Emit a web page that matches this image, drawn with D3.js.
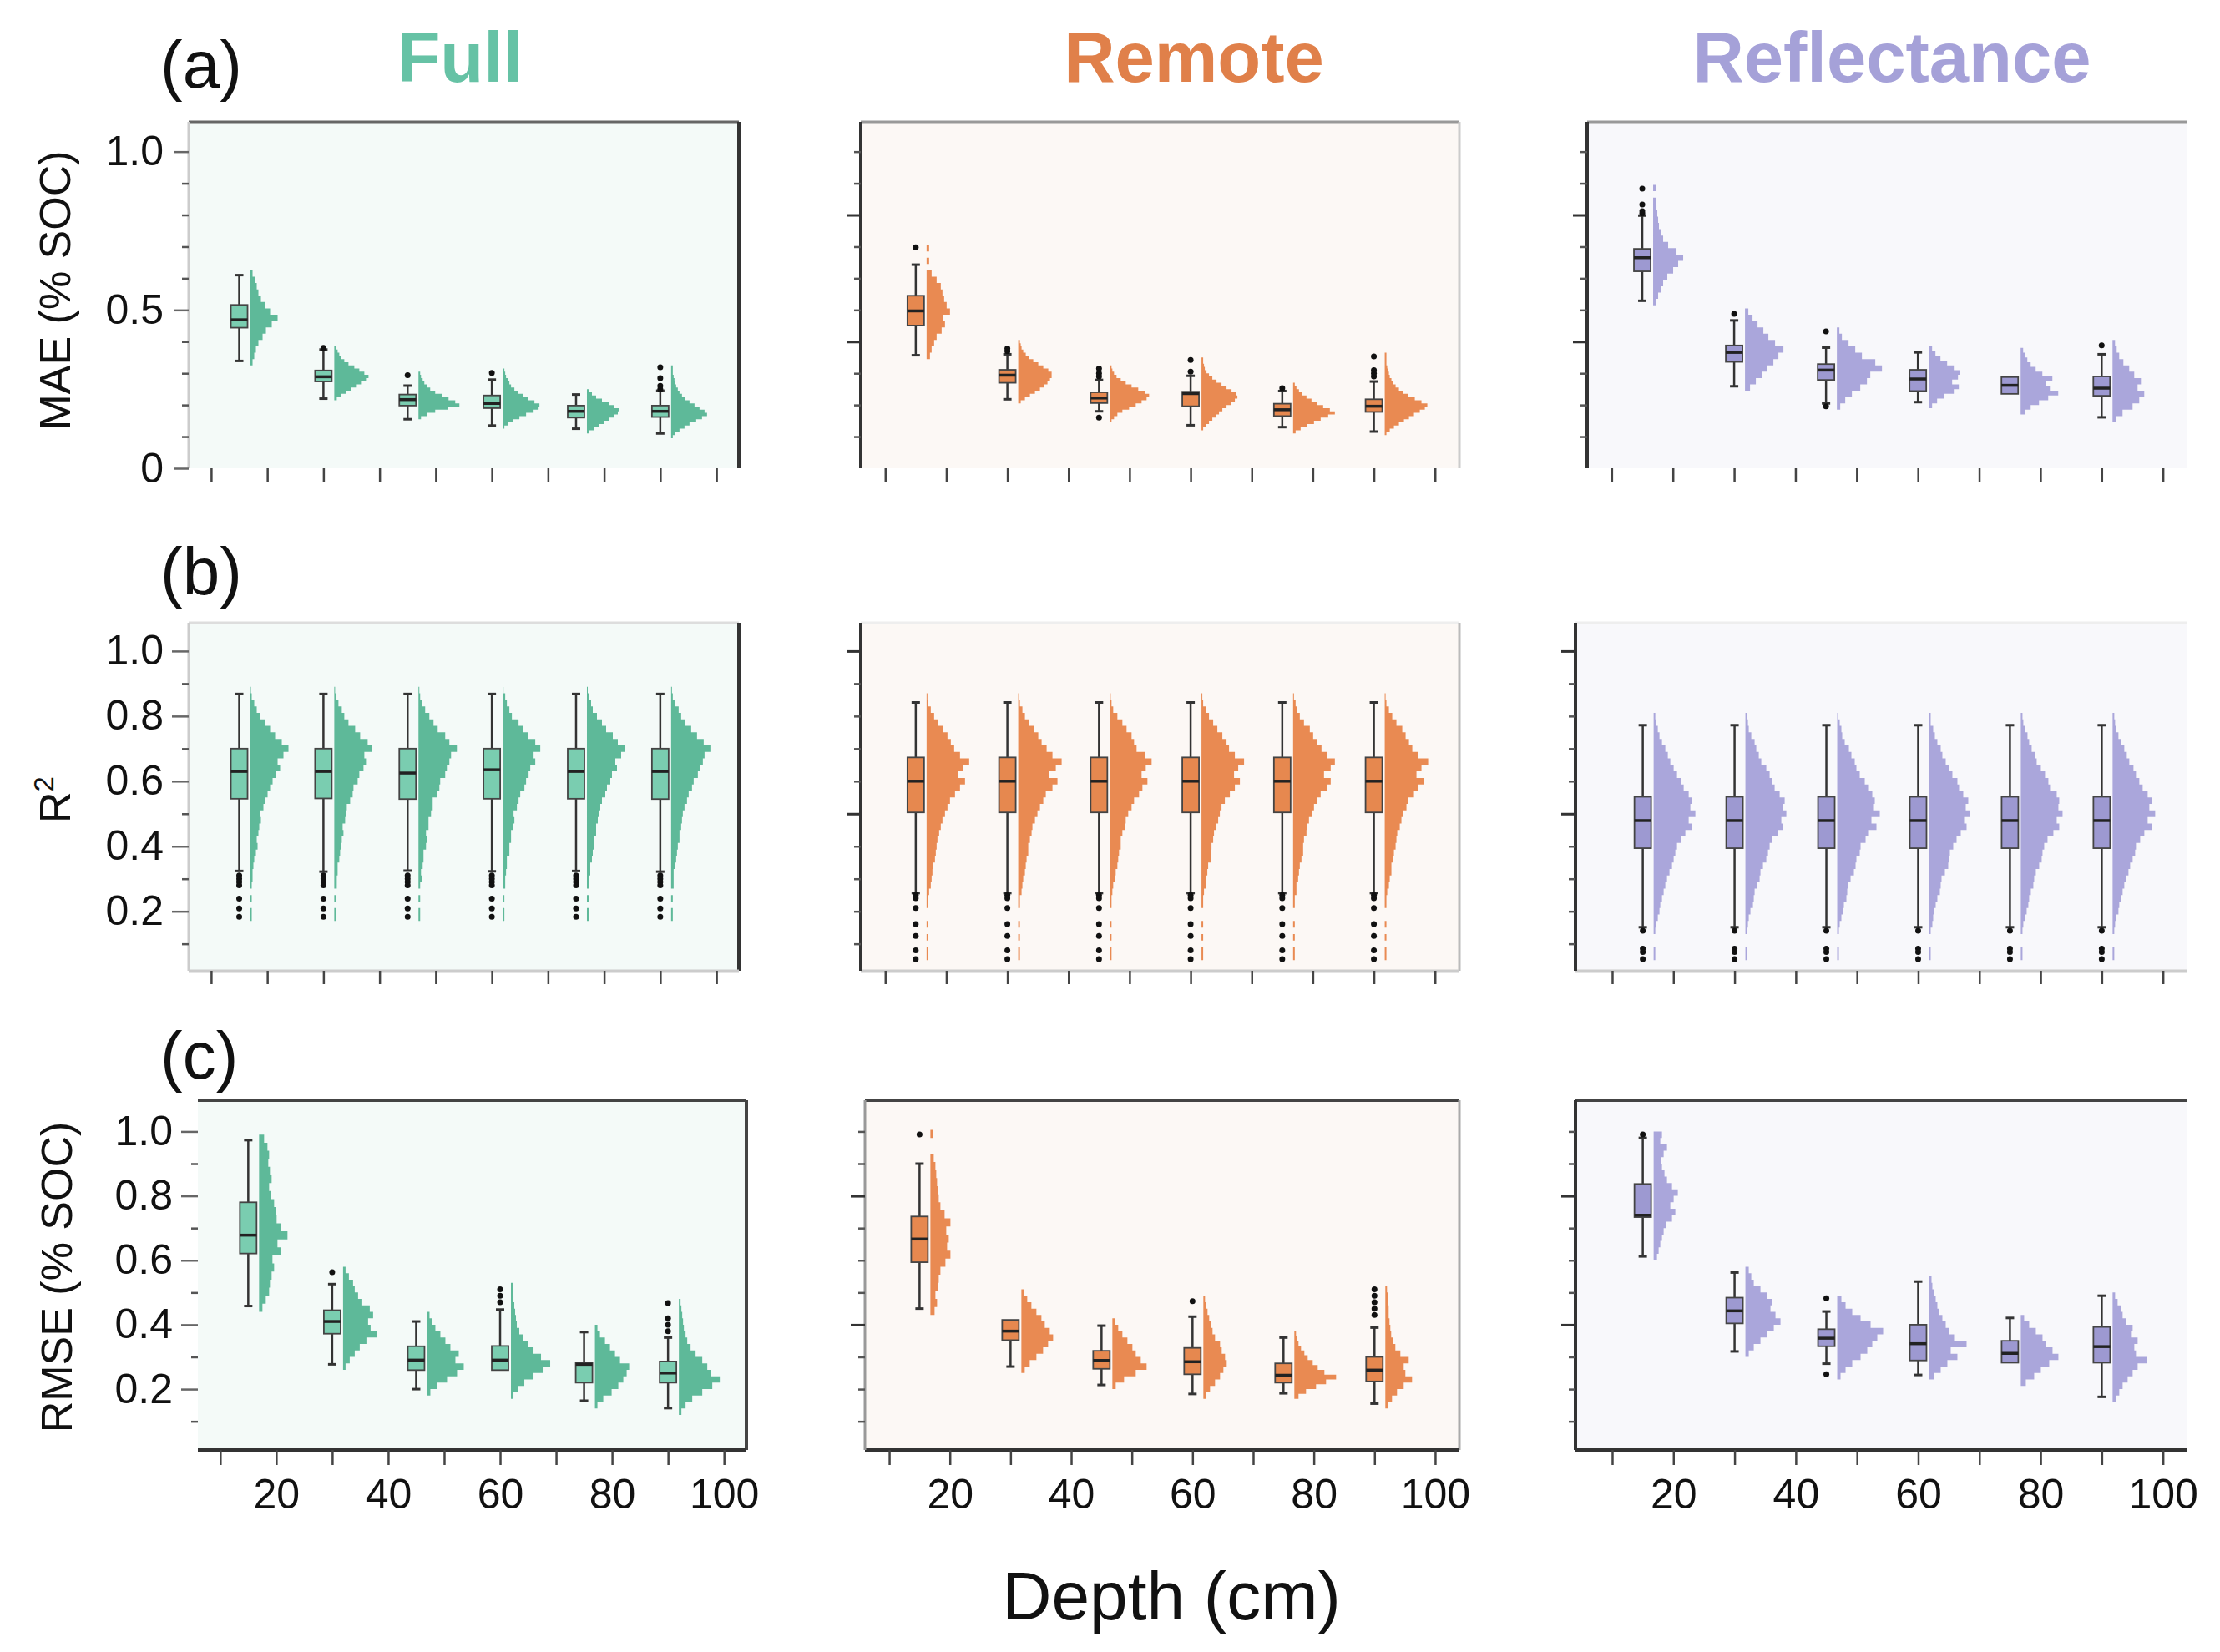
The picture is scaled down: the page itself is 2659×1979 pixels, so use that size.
<!DOCTYPE html>
<meta charset="utf-8">
<style>
body { margin: 0; background: #fff; }
text { font-family: "Liberation Sans", Arial, Helvetica, sans-serif; }
</style>
<svg width="2659" height="1979"></svg>
<script src="https://d3js.org/d3.v7.min.js"></script>
<script>
// categories and ticks
var models = ["Full", "Remote", "Reflectance"];
var depths = [15, 30, 45, 60, 75, 90];
var xTickValues = [10, 20, 30, 40, 50, 60, 70, 80, 90, 100];
var xTickLabels = [20, 40, 60, 80, 100];
var panelTags = ["(a)", "(b)", "(c)"];
var yLabelValues = [[0, 0.5, 1.0], [0.2, 0.4, 0.6, 0.8, 1.0], [0.2, 0.4, 0.6, 0.8, 1.0]];
var yLabelTexts = [["0", "0.5", "1.0"], ["0.2", "0.4", "0.6", "0.8", "1.0"], ["0.2", "0.4", "0.6", "0.8", "1.0"]];
var yTenths = [0.1, 0.2, 0.3, 0.4, 0.5, 0.6, 0.7, 0.8, 0.9, 1.0];
var yMajorOther = [[0.4, 0.8], [0.5, 1.0], [0.4, 0.8]];

// box stats per depth: [lower whisker, q1, median, q3, upper whisker]
var maeFullBox = [[0.339, 0.444, 0.469, 0.516, 0.61], [0.22, 0.274, 0.289, 0.309, 0.375], [0.155, 0.198, 0.217, 0.233, 0.261],
  [0.135, 0.19, 0.205, 0.23, 0.28], [0.125, 0.16, 0.18, 0.198, 0.233], [0.11, 0.162, 0.18, 0.198, 0.245]];
var maeRemoteBox = [[0.357, 0.451, 0.497, 0.545, 0.643], [0.218, 0.27, 0.294, 0.311, 0.36], [0.18, 0.206, 0.222, 0.24, 0.279],
  [0.136, 0.196, 0.236, 0.242, 0.292], [0.13, 0.165, 0.185, 0.204, 0.244], [0.116, 0.178, 0.196, 0.218, 0.274]];
var maeReflBox = [[0.529, 0.622, 0.665, 0.693, 0.798], [0.259, 0.336, 0.366, 0.388, 0.467], [0.205, 0.279, 0.31, 0.329, 0.381],
  [0.209, 0.244, 0.282, 0.311, 0.366], [0.235, 0.235, 0.262, 0.288, 0.288], [0.161, 0.229, 0.253, 0.29, 0.36]];
var r2FullBox = [[0.324, 0.546, 0.63, 0.70, 0.868], [0.322, 0.547, 0.63, 0.70, 0.868], [0.325, 0.545, 0.625, 0.70, 0.868],
  [0.323, 0.546, 0.635, 0.70, 0.868], [0.324, 0.546, 0.63, 0.70, 0.868], [0.322, 0.545, 0.63, 0.70, 0.868]];
var r2RemoteBox = [[0.256, 0.504, 0.60, 0.673, 0.842], [0.256, 0.504, 0.60, 0.673, 0.842], [0.256, 0.504, 0.60, 0.673, 0.842],
  [0.256, 0.504, 0.60, 0.673, 0.842], [0.256, 0.504, 0.60, 0.673, 0.842], [0.256, 0.504, 0.60, 0.673, 0.842]];
var r2ReflBox = [[0.151, 0.394, 0.479, 0.552, 0.772], [0.151, 0.394, 0.479, 0.552, 0.772], [0.151, 0.394, 0.479, 0.552, 0.772],
  [0.151, 0.394, 0.479, 0.552, 0.772], [0.151, 0.394, 0.479, 0.552, 0.772], [0.151, 0.394, 0.479, 0.552, 0.772]];
var rmseFullBox = [[0.458, 0.621, 0.678, 0.78, 0.973], [0.277, 0.372, 0.41, 0.445, 0.526], [0.2, 0.259, 0.29, 0.333, 0.41],
  [0.259, 0.259, 0.29, 0.334, 0.447], [0.164, 0.22, 0.277, 0.283, 0.377], [0.141, 0.22, 0.25, 0.286, 0.36]];
var rmseRemoteBox = [[0.45, 0.594, 0.666, 0.736, 0.9], [0.27, 0.352, 0.38, 0.415, 0.415], [0.213, 0.263, 0.289, 0.319, 0.397],
  [0.185, 0.246, 0.285, 0.328, 0.425], [0.187, 0.22, 0.243, 0.28, 0.36], [0.155, 0.224, 0.259, 0.3, 0.391]];
var rmseReflBox = [[0.612, 0.734, 0.74, 0.837, 0.98], [0.317, 0.404, 0.443, 0.484, 0.562], [0.279, 0.333, 0.358, 0.386, 0.441],
  [0.244, 0.289, 0.341, 0.4, 0.534], [0.282, 0.282, 0.311, 0.35, 0.421], [0.176, 0.282, 0.332, 0.393, 0.49]];

// outliers per depth
var maeFullOut = [[], [0.38], [0.294], [0.301], [], [0.25, 0.26, 0.285, 0.319]];
var maeRemoteOut = [[0.698], [0.37, 0.378], [0.16, 0.29, 0.3, 0.315], [0.305, 0.342], [0.253], [0.29, 0.3, 0.31, 0.353]];
var maeReflOut = [[0.805, 0.812, 0.833, 0.883], [0.488], [0.196, 0.432], [], [], [0.388]];
var r2FullOutliers = [0.31, 0.30, 0.29, 0.28, 0.239, 0.209, 0.183];
var r2RemoteOutliers = [0.25, 0.24, 0.21, 0.161, 0.124, 0.08, 0.053];
var r2ReflOutliers = [0.14, 0.085, 0.075, 0.053];
var rmseFullOut = [[], [0.563], [], [0.47, 0.49, 0.51], [], [0.38, 0.40, 0.42, 0.467]];
var rmseRemoteOut = [[0.991], [], [], [0.473], [], [0.43, 0.45, 0.47, 0.49, 0.51]];
var rmseReflOut = [[0.991], [], [0.246, 0.482], [], [], []];

// histograms per depth: [first bin start, bin width, counts]
var maeFullHist = [
  [0.325, 0.02, [3, 5, 7, 10, 15, 19, 26, 33, 24, 18, 13, 10, 8, 6, 3]],
  [0.215, 0.01, [3, 8, 14, 20, 26, 32, 38, 41, 36, 30, 24, 17, 12, 8, 6, 4, 2]],
  [0.155, 0.01, [3, 10, 20, 35, 49, 44, 36, 28, 20, 14, 10, 7, 5, 3, 2]],
  [0.125, 0.01, [2, 6, 12, 20, 28, 36, 42, 44, 38, 30, 24, 18, 14, 10, 8, 6, 4, 3, 2]],
  [0.11, 0.01, [3, 8, 14, 20, 27, 33, 37, 39, 33, 26, 18, 11, 6, 3]],
  [0.095, 0.01, [2, 5, 10, 16, 22, 30, 37, 43, 40, 34, 28, 22, 17, 13, 10, 8, 6, 5, 4, 3, 2, 2, 2]]];
var maeRemoteHist = [
  [0.345, 0.02, [4, 6, 9, 12, 18, 22, 20, 28, 24, 21, 19, 17, 12, 6, 0, 3, 0, 3]],
  [0.205, 0.01, [3, 8, 14, 20, 26, 31, 35, 38, 40, 40, 36, 30, 24, 18, 13, 9, 6, 4, 3, 2]],
  [0.145, 0.01, [2, 5, 9, 15, 23, 31, 38, 44, 47, 42, 34, 26, 19, 13, 8, 5, 3, 2]],
  [0.12, 0.01, [2, 5, 9, 13, 17, 21, 25, 30, 35, 40, 43, 41, 36, 30, 24, 18, 13, 9, 6, 4, 3, 2, 2]],
  [0.11, 0.01, [3, 9, 17, 25, 33, 42, 50, 44, 36, 29, 22, 16, 11, 7, 4, 2]],
  [0.105, 0.01, [2, 6, 11, 17, 23, 29, 35, 42, 48, 51, 44, 36, 28, 22, 17, 13, 10, 8, 6, 5, 4, 3, 2, 2, 2, 2]]];
var maeReflHist = [
  [0.515, 0.02, [3, 6, 9, 12, 17, 24, 30, 36, 28, 18, 12, 9, 7, 6, 5, 4, 3, 0, 3]],
  [0.245, 0.02, [6, 13, 20, 26, 34, 40, 46, 36, 28, 22, 15, 9, 4]],
  [0.185, 0.02, [4, 10, 18, 28, 36, 40, 54, 46, 30, 22, 14, 6, 3]],
  [0.19, 0.015, [4, 10, 18, 30, 36, 28, 35, 37, 30, 22, 14, 8, 4]],
  [0.17, 0.015, [5, 12, 22, 33, 45, 35, 30, 38, 26, 18, 12, 8, 5, 3]],
  [0.145, 0.02, [4, 12, 24, 32, 38, 30, 34, 26, 20, 13, 8, 5, 3]]];
var r2FullHist = [
  [0.17, 0.02, [2, 2, 0, 2, 0, 2, 3, 3, 4, 5, 7, 9, 8, 10, 11, 13, 12, 16, 18, 21, 24, 27, 31, 36, 33, 40, 46, 38, 30, 24, 18, 12, 8, 5, 2, 1]],
  [0.17, 0.02, [2, 2, 0, 2, 0, 3, 3, 4, 4, 6, 7, 8, 9, 11, 10, 13, 14, 15, 19, 22, 23, 28, 30, 35, 38, 36, 45, 40, 31, 25, 17, 12, 9, 5, 2, 1]],
  [0.17, 0.02, [2, 2, 0, 2, 0, 2, 4, 3, 5, 6, 6, 9, 10, 9, 12, 12, 15, 17, 17, 22, 25, 26, 32, 34, 37, 39, 46, 37, 32, 23, 18, 13, 8, 4, 2, 1]],
  [0.17, 0.02, [2, 2, 0, 2, 0, 3, 3, 4, 5, 5, 8, 8, 10, 10, 12, 14, 13, 17, 19, 21, 26, 28, 31, 33, 39, 36, 45, 39, 30, 24, 19, 11, 8, 5, 3, 1]],
  [0.17, 0.02, [2, 2, 0, 2, 0, 2, 3, 4, 4, 6, 7, 9, 9, 11, 11, 13, 14, 16, 18, 22, 24, 28, 30, 36, 34, 41, 46, 37, 31, 23, 18, 12, 7, 5, 2, 1]],
  [0.17, 0.02, [2, 2, 0, 2, 0, 3, 3, 3, 5, 6, 7, 8, 10, 10, 12, 13, 14, 16, 19, 21, 25, 27, 32, 35, 38, 40, 47, 39, 31, 24, 17, 12, 9, 5, 2, 1]]];
var r2RemoteHist = [
  [0.03, 0.02, [0, 2, 2, 0, 2, 0, 2, 0, 0, 2, 2, 3, 5, 6, 7, 8, 10, 11, 12, 13, 15, 17, 19, 22, 25, 28, 34, 40, 46, 38, 44, 51, 40, 33, 29, 25, 20, 14, 9, 5, 2, 1]],
  [0.03, 0.02, [0, 2, 2, 0, 2, 0, 2, 0, 0, 2, 2, 4, 5, 6, 8, 9, 10, 12, 12, 14, 16, 17, 20, 23, 26, 30, 33, 41, 47, 37, 45, 52, 41, 34, 28, 24, 19, 13, 8, 5, 2, 1]],
  [0.03, 0.02, [0, 2, 2, 0, 2, 0, 2, 0, 0, 2, 2, 3, 4, 6, 7, 9, 10, 11, 13, 13, 15, 18, 19, 22, 26, 29, 35, 39, 45, 38, 43, 50, 42, 32, 29, 26, 20, 15, 9, 4, 2, 1]],
  [0.03, 0.02, [0, 2, 2, 0, 2, 0, 2, 0, 0, 2, 2, 3, 5, 5, 7, 8, 11, 11, 12, 14, 15, 17, 20, 22, 24, 28, 34, 40, 46, 39, 44, 51, 40, 33, 30, 25, 19, 14, 9, 5, 2, 1]],
  [0.03, 0.02, [0, 2, 2, 0, 2, 0, 2, 0, 0, 2, 2, 4, 4, 6, 7, 8, 10, 12, 12, 13, 16, 17, 19, 23, 25, 29, 33, 41, 45, 37, 45, 50, 41, 34, 29, 24, 20, 13, 8, 5, 3, 1]],
  [0.03, 0.02, [0, 2, 2, 0, 2, 0, 2, 0, 0, 2, 2, 3, 5, 6, 8, 8, 10, 11, 13, 14, 15, 18, 20, 22, 26, 28, 35, 40, 47, 38, 44, 52, 40, 33, 29, 25, 21, 14, 9, 5, 2, 1]]];
var r2ReflHist = [
  [0.03, 0.02, [0, 2, 2, 0, 0, 2, 3, 5, 7, 8, 10, 12, 14, 16, 19, 22, 24, 26, 28, 33, 38, 46, 42, 50, 44, 46, 42, 36, 33, 28, 24, 20, 17, 14, 10, 7, 5, 3, 2]],
  [0.03, 0.02, [0, 2, 2, 0, 0, 2, 3, 4, 6, 9, 10, 11, 14, 17, 18, 21, 25, 27, 29, 32, 39, 45, 43, 49, 45, 47, 41, 35, 32, 29, 25, 19, 16, 13, 11, 7, 4, 3, 2]],
  [0.03, 0.02, [0, 2, 2, 0, 0, 2, 3, 5, 7, 8, 11, 12, 13, 16, 20, 22, 23, 27, 28, 34, 37, 47, 41, 51, 43, 45, 42, 37, 33, 27, 23, 21, 17, 14, 9, 6, 5, 3, 1]],
  [0.03, 0.02, [0, 2, 2, 0, 0, 2, 4, 5, 6, 8, 10, 13, 14, 15, 19, 23, 24, 25, 29, 33, 38, 45, 42, 49, 44, 47, 41, 36, 34, 28, 24, 20, 16, 14, 10, 7, 5, 2, 2]],
  [0.03, 0.02, [0, 2, 2, 0, 0, 2, 3, 5, 7, 9, 10, 12, 15, 16, 18, 22, 25, 26, 28, 32, 39, 46, 43, 50, 45, 46, 43, 35, 33, 29, 24, 19, 17, 13, 10, 8, 5, 3, 2]],
  [0.03, 0.02, [0, 2, 2, 0, 0, 2, 3, 4, 7, 8, 10, 12, 14, 16, 19, 21, 24, 27, 28, 33, 38, 47, 42, 51, 44, 47, 42, 36, 32, 28, 25, 20, 17, 14, 10, 7, 4, 3, 2]]];
var rmseFullHist = [
  [0.44, 0.025, [4, 8, 12, 13, 15, 18, 16, 26, 22, 34, 26, 21, 20, 18, 14, 12, 15, 13, 11, 12, 10, 6]],
  [0.26, 0.02, [3, 8, 14, 20, 28, 41, 33, 30, 36, 32, 22, 18, 14, 12, 7, 3]],
  [0.18, 0.02, [4, 12, 24, 36, 44, 34, 38, 28, 22, 16, 10, 6, 3]],
  [0.17, 0.02, [3, 8, 16, 26, 38, 47, 36, 26, 20, 14, 10, 7, 6, 5, 4, 3, 2, 2]],
  [0.14, 0.02, [3, 10, 20, 28, 34, 38, 41, 30, 24, 18, 12, 6, 3]],
  [0.12, 0.02, [3, 8, 16, 28, 40, 49, 38, 34, 28, 20, 14, 10, 8, 6, 5, 4, 3, 2]]];
var rmseRemoteHist = [
  [0.43, 0.025, [5, 8, 6, 9, 10, 12, 18, 24, 20, 22, 19, 24, 17, 12, 10, 9, 8, 7, 6, 4, 0, 0, 3]],
  [0.25, 0.02, [4, 10, 18, 26, 32, 38, 34, 28, 24, 18, 12, 7, 3]],
  [0.2, 0.02, [4, 14, 28, 41, 34, 28, 24, 18, 12, 7, 3]],
  [0.17, 0.02, [3, 8, 14, 20, 24, 28, 26, 22, 20, 14, 11, 9, 7, 5, 3, 2]],
  [0.17, 0.015, [5, 14, 26, 38, 50, 36, 28, 22, 16, 12, 8, 5, 3, 2]],
  [0.14, 0.02, [3, 8, 14, 22, 32, 24, 22, 28, 18, 12, 9, 7, 6, 5, 4, 4, 3, 3, 2]]];
var rmseReflHist = [
  [0.6, 0.02, [4, 6, 8, 10, 12, 15, 22, 26, 20, 24, 29, 22, 16, 13, 10, 9, 12, 16, 8, 10]],
  [0.3, 0.02, [4, 10, 18, 26, 34, 42, 36, 30, 32, 26, 18, 10, 7, 4]],
  [0.23, 0.02, [4, 10, 18, 28, 36, 42, 48, 55, 40, 28, 18, 10, 5]],
  [0.23, 0.02, [6, 14, 22, 34, 26, 45, 30, 24, 20, 16, 12, 10, 8, 6, 4, 3]],
  [0.21, 0.02, [6, 16, 24, 34, 45, 38, 30, 26, 18, 10, 4]],
  [0.16, 0.02, [4, 8, 12, 18, 24, 30, 41, 28, 26, 30, 22, 24, 16, 12, 10, 6, 3]]];

// tables the drawing code walks over: [row][col]
var boxTable = [[maeFullBox, maeRemoteBox, maeReflBox], [r2FullBox, r2RemoteBox, r2ReflBox], [rmseFullBox, rmseRemoteBox, rmseReflBox]];
var outTable = [[maeFullOut, maeRemoteOut, maeReflOut],
  [depths.map(function() { return r2FullOutliers; }), depths.map(function() { return r2RemoteOutliers; }), depths.map(function() { return r2ReflOutliers; })],
  [rmseFullOut, rmseRemoteOut, rmseReflOut]];
var histTable = [[maeFullHist, maeRemoteHist, maeReflHist], [r2FullHist, r2RemoteHist, r2ReflHist], [rmseFullHist, rmseRemoteHist, rmseReflHist]];

// layout and styles
var rowY = [[146, 561], [746, 1163], [1318, 1737]];
var colX = [
  [[226, 885], [226, 885], [237, 894]],
  [[1031, 1748], [1031, 1748], [1036, 1748]],
  [[1901, 2620], [1887, 2620], [1887, 2620]]];
var xDomain = [
  [[6, 104], [6, 104], [6, 104]],
  [[6, 104], [6, 104], [6, 104]],
  [[6, 104], [4, 104], [4, 104]]];
var yDomain = [[0, 1.094], [0.017, 1.087], [0.011, 1.097]];
var titleColor = ["#66c2a5", "#e0804a", "#a5a1d8"];
var histColor = ["#5eb999", "#e98a52", "#aaa6db"];
var boxColor = ["#7acdb0", "#e6884f", "#9d99d1"];
var bgColor = ["#f4faf8", "#fcf8f5", "#f8f8fb"];
// [top, right, bottom, left] border colours for each panel, [row][col]
var borders = [
  [["#666", "#333", null, "#ccc"], ["#999", "#ccc", null, "#333"], ["#999", null, null, "#333"]],
  [["#ddd", "#333", "#ccc", "#ccc"], ["#eee", "#bbb", "#ccc", "#333"], ["#eee", null, "#ccc", "#333"]],
  [["#444", "#444", "#333", null], ["#444", "#aaa", "#333", "#999"], ["#444", null, "#333", "#333"]]];

var svg = d3.select("svg");
svg.append("rect").attr("width", 2659).attr("height", 1979).attr("fill", "#fff");

function drawPanel(row, col) {
  var xr = colX[col][row], yr = rowY[row];
  var x = d3.scaleLinear().domain(xDomain[col][row]).range(xr);
  var y = d3.scaleLinear().domain(yDomain[row]).range([yr[1], yr[0]]);
  var w = d3.scaleLinear().domain([0, 50]).range([0, 50]);
  var g = svg.append("g");

  g.append("rect")
      .attr("x", xr[0]).attr("y", yr[0])
      .attr("width", xr[1] - xr[0]).attr("height", yr[1] - yr[0])
      .attr("fill", bgColor[col]);

  var box = boxTable[row][col], out = outTable[row][col], hist = histTable[row][col];

  depths.forEach(function(d, i) {
    var cx = x(d), b = box[i], h = hist[i];

    // half histogram to the right of the box
    var pts = [[0, h[0]]];
    h[2].forEach(function(c, k) {
      pts.push([c, h[0] + k * h[1]], [c, h[0] + (k + 1) * h[1]]);
    });
    pts.push([0, h[0] + h[2].length * h[1]]);
    g.append("path")
        .attr("d", d3.line()
          .x(function(p) { return cx + 13 + w(p[0]); })
          .y(function(p) { return y(p[1]); })(pts))
        .attr("fill", histColor[col]);

    // whiskers
    g.append("line").attr("x1", cx).attr("x2", cx).attr("y1", y(b[0])).attr("y2", y(b[1]))
        .attr("stroke", "#333").attr("stroke-width", 2.5);
    g.append("line").attr("x1", cx).attr("x2", cx).attr("y1", y(b[3])).attr("y2", y(b[4]))
        .attr("stroke", "#333").attr("stroke-width", 2.5);
    [b[0], b[4]].forEach(function(v) {
      if (v === b[1] || v === b[3]) return;
      g.append("line").attr("x1", cx - 5).attr("x2", cx + 5).attr("y1", y(v)).attr("y2", y(v))
          .attr("stroke", "#333").attr("stroke-width", 3);
    });

    // box and median
    g.append("rect")
        .attr("x", cx - 10).attr("width", 20)
        .attr("y", y(b[3])).attr("height", y(b[1]) - y(b[3]))
        .attr("fill", boxColor[col]).attr("stroke", "#444").attr("stroke-width", 1.8);
    g.append("line").attr("x1", cx - 10).attr("x2", cx + 10).attr("y1", y(b[2])).attr("y2", y(b[2]))
        .attr("stroke", "#222").attr("stroke-width", 3.5);

    // outliers
    g.selectAll(null)
      .data(out[i])
      .enter().append("circle")
        .attr("cx", cx).attr("cy", function(v) { return y(v); })
        .attr("r", 3.5).attr("fill", "#111");
  });

  // panel frame
  var edges = [[xr[0], yr[0], xr[1], yr[0]], [xr[1], yr[0], xr[1], yr[1]], [xr[0], yr[1], xr[1], yr[1]], [xr[0], yr[0], xr[0], yr[1]]];
  borders[row][col].forEach(function(c, k) {
    if (!c) return;
    var e = edges[k];
    g.append("line").attr("x1", e[0]).attr("y1", e[1]).attr("x2", e[2]).attr("y2", e[3])
        .attr("stroke", c).attr("stroke-width", (c === "#333" || c === "#444") ? 4 : 3);
  });

  // y axis
  var yAx = g.append("g").attr("transform", "translate(" + xr[0] + ",0)");
  if (col === 0) {
    yAx.call(d3.axisLeft(y).tickValues(yTenths.filter(function(v) { return yLabelValues[row].indexOf(v) < 0; }))
        .tickSize(8).tickFormat(""));
    var lab = g.append("g").attr("transform", "translate(" + xr[0] + ",0)")
        .call(d3.axisLeft(y).tickValues(yLabelValues[row]).tickSize(row === 0 ? 17 : 20).tickPadding(row === 0 ? 13 : 10)
          .tickFormat(function(d, i) { return yLabelTexts[row][i]; }));
    lab.select(".domain").remove();
    lab.selectAll("line").attr("stroke", "#666").attr("stroke-width", 2.5);
    lab.selectAll("text").attr("font-size", 50).attr("fill", "#111")
        .attr("font-family", "'Liberation Sans', Arial, sans-serif");
  } else {
    yAx.call(d3.axisLeft(y).tickValues(yTenths.filter(function(v) { return yMajorOther[row].indexOf(v) < 0; }))
        .tickSize(8).tickFormat(""));
    var maj = g.append("g").attr("transform", "translate(" + xr[0] + ",0)")
        .call(d3.axisLeft(y).tickValues(yMajorOther[row]).tickSize(17).tickFormat(""));
    maj.select(".domain").remove();
    maj.selectAll("line").attr("stroke", "#333").attr("stroke-width", 3);
  }
  yAx.select(".domain").remove();
  yAx.selectAll("line").attr("stroke", "#555").attr("stroke-width", 2.5);

  // x axis
  var xAx = g.append("g").attr("transform", "translate(0," + yr[1] + ")")
      .call(d3.axisBottom(x).tickValues(xTickValues).tickSize(row === 2 ? 18 : 16).tickPadding(16)
        .tickFormat(function(d) { return (row === 2 && xTickLabels.indexOf(d) >= 0) ? d : ""; }));
  xAx.select(".domain").remove();
  xAx.selectAll("line").attr("stroke", "#444").attr("stroke-width", 2.5);
  xAx.selectAll("text").attr("font-size", 50).attr("fill", "#111")
      .attr("font-family", "'Liberation Sans', Arial, sans-serif");
}

for (var r = 0; r < 3; r++) {
  for (var c = 0; c < 3; c++) drawPanel(r, c);
}

// column titles
var titleX = [551, 1430, 2266];
models.forEach(function(m, i) {
  svg.append("text")
      .attr("x", titleX[i]).attr("y", 98)
      .attr("text-anchor", "middle")
      .attr("font-size", 85).attr("font-weight", "bold")
      .attr("fill", titleColor[i])
      .text(m);
});

// row tags
var tagY = [105, 712, 1292];
panelTags.forEach(function(t, i) {
  svg.append("text").attr("x", 192).attr("y", tagY[i])
      .attr("font-size", 80).attr("fill", "#111").text(t);
});

// y axis titles
var maeLab = svg.append("text").attr("transform", "translate(84,348) rotate(-90)")
    .attr("text-anchor", "middle").attr("font-size", 52).attr("fill", "#111").text("MAE (% SOC)");
var r2Lab = svg.append("text").attr("transform", "translate(84,958) rotate(-90)")
    .attr("text-anchor", "middle").attr("font-size", 52).attr("fill", "#111");
r2Lab.append("tspan").text("R");
r2Lab.append("tspan").attr("dy", -20).attr("font-size", 33).text("2");
svg.append("text").attr("transform", "translate(86,1530) rotate(-90)")
    .attr("text-anchor", "middle").attr("font-size", 52).attr("fill", "#111").text("RMSE (% SOC)");

// shared x title
svg.append("text").attr("x", 1403).attr("y", 1940)
    .attr("text-anchor", "middle").attr("font-size", 82).attr("fill", "#111")
    .text("Depth (cm)");
</script>
